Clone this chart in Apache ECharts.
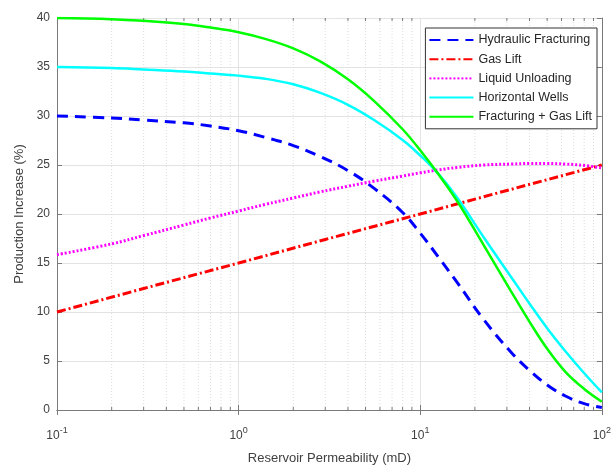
<!DOCTYPE html>
<html>
<head>
<meta charset="utf-8">
<script src="https://cdn.jsdelivr.net/npm/echarts@6/dist/echarts.min.js"></script>
<style>
html,body{margin:0;padding:0;background:#fff;}
#chart{width:614px;height:470px;}
</style>
</head>
<body>
<div id="chart"></div>
<script>
// ---- data ----
const permeability = [0.1, 0.2, 0.3, 0.5, 0.7, 1, 1.4, 2, 2.8, 4, 5.6, 8, 10, 12.6, 16, 22.4, 32, 40, 50, 63, 80, 100];
const hydraulicFracturing = [30, 29.79, 29.58, 29.3, 28.98, 28.5, 27.82, 26.98, 25.89, 24.43, 22.59, 20.15, 18.05, 15.6, 13.0, 9.21, 5.8, 4.04, 2.56, 1.43, 0.65, 0.25];
const horizontalWells = [35, 34.9, 34.75, 34.54, 34.34, 34.12, 33.8, 33.24, 32.38, 31.14, 29.56, 27.55, 25.97, 24.1, 21.65, 17.6, 13.45, 10.85, 8.35, 6.0, 3.75, 1.8];
const fracturingGasLift = [40, 39.88, 39.71, 39.38, 39.02, 38.55, 37.87, 36.9, 35.6, 33.75, 31.5, 28.65, 26.5, 24.05, 21.3, 16.8, 11.95, 9.0, 6.25, 3.9, 2.15, 0.85];
const liquidUnloading = [15.85, 16.95, 17.8, 18.88, 19.6, 20.3, 20.98, 21.63, 22.25, 22.83, 23.36, 23.87, 24.2, 24.5, 24.75, 25.0, 25.1, 25.15, 25.15, 25.1, 24.95, 24.7];
const gasLiftX = [0.1, 0.3, 1, 3, 10, 30, 100];
const gasLift = [10, 12.4, 15, 17.4, 20, 22.4, 25];
const minorTicksX = [0.2,0.3,0.4,0.5,0.6,0.7,0.8,0.9, 2,3,4,5,6,7,8,9, 20,30,40,50,60,70,80,90];
const yRange = [0, 40];
const xRange = [0.1, 100];
const seriesNames = ['Hydraulic Fracturing', 'Gas Lift', 'Liquid Unloading', 'Horizontal Wells', 'Fracturing + Gas Lift'];

const FONT = '"Liberation Sans", Arial, sans-serif';
const AXIS_COLOR = '#7a7a7a';
const TEXT_COLOR = '#404040';

function pairs(xs, ys){ return xs.map((x,i)=>[x, ys[i]]); }

const chart = echarts.init(document.getElementById('chart'), null, {renderer:'canvas'});

const xCommon = {
  type: 'log', logBase: 10, min: xRange[0], max: xRange[1],
  axisLine: {show: true, lineStyle: {color: AXIS_COLOR, width: 1}},
  axisTick: {show: true, inside: true, length: 5, lineStyle: {color: AXIS_COLOR}},
  minorTick: {show: false},
};
const yCommon = {
  type: 'value', min: yRange[0], max: yRange[1], interval: 5,
  axisLine: {show: true, lineStyle: {color: AXIS_COLOR, width: 1}},
  axisTick: {show: true, inside: true, length: 5, lineStyle: {color: AXIS_COLOR}},
};

const option = {
  animation: false,
  backgroundColor: '#fff',
  textStyle: {fontFamily: FONT},
  grid: {left: 57, right: 10, top: 18, bottom: 54, containLabel: false},
  legend: {
    data: seriesNames,
    orient: 'vertical',
    right: 17, top: 28,
    backgroundColor: '#fff',
    borderColor: '#333', borderWidth: 1,
    padding: [5, 5, 5, 3],
    itemWidth: 44, itemHeight: 14, itemGap: 5.2,
    itemStyle: {opacity: 0},
    textStyle: {fontSize: 12.5, lineHeight: 14, color: '#262626', fontFamily: FONT}
  },
  xAxis: [
    Object.assign({}, xCommon, {
      position: 'bottom',
      name: 'Reservoir Permeability (mD)', nameLocation: 'middle', nameGap: 42,
      nameTextStyle: {fontSize: 13, color: TEXT_COLOR, fontFamily: FONT},
      splitLine: {show: true, lineStyle: {color: '#e3e3e3', width: 1}},
      axisLabel: {
        margin: 16, color: TEXT_COLOR, fontSize: 12, fontFamily: FONT,
        formatter: function(v){ const e = Math.round(Math.log10(v)); return '{b|10}{sup|' + e + '}'; },
        rich: {
          b: {fontSize: 12, color: TEXT_COLOR, fontFamily: FONT, verticalAlign: 'bottom', lineHeight: 16},
          sup: {fontSize: 9, color: TEXT_COLOR, fontFamily: FONT, verticalAlign: 'top', lineHeight: 16}
        }
      }
    }),
    Object.assign({}, xCommon, {
      position: 'top',
      axisLabel: {show: false},
      splitLine: {show: false}
    })
  ],
  yAxis: [
    Object.assign({}, yCommon, {
      position: 'left',
      name: 'Production Increase (%)', nameLocation: 'middle', nameGap: 29,
      nameTextStyle: {fontSize: 13, color: TEXT_COLOR, fontFamily: FONT},
      splitLine: {show: true, lineStyle: {color: '#e3e3e3', width: 1}},
      axisLabel: {margin: 7, color: TEXT_COLOR, fontSize: 12, fontFamily: FONT}
    }),
    Object.assign({}, yCommon, {
      position: 'right',
      axisLabel: {show: false},
      splitLine: {show: false}
    })
  ],
  series: [
    {
      type: 'custom',
      silent: true,
      z: 1,
      xAxisIndex: 0, yAxisIndex: 0,
      data: minorTicksX.map(v => [v, yRange[0]]),
      encode: {x: 0, y: 1},
      renderItem: function(params, api){
        const v = api.value(0);
        const pb = api.coord([v, yRange[0]]);
        const pt = api.coord([v, yRange[1]]);
        return {
          type: 'group',
          children: [
            {type: 'line', shape: {x1: pb[0], y1: pb[1], x2: pt[0], y2: pt[1]},
             style: {stroke: '#dcdcdc', lineWidth: 1, lineDash: [1, 2]}},
            {type: 'line', shape: {x1: pb[0], y1: pb[1], x2: pb[0], y2: pb[1] - 3},
             style: {stroke: AXIS_COLOR, lineWidth: 1}},
            {type: 'line', shape: {x1: pt[0], y1: pt[1], x2: pt[0], y2: pt[1] + 3},
             style: {stroke: AXIS_COLOR, lineWidth: 1}}
          ]
        };
      }
    },
    {
      name: seriesNames[0], type: 'line', smooth: 0.4, symbol: 'none', z: 5,
      data: pairs(permeability, hydraulicFracturing),
      lineStyle: {color: '#0000ff', width: 3, type: [11, 7]},
      itemStyle: {color: '#0000ff'}
    },
    {
      name: seriesNames[1], type: 'line', smooth: false, symbol: 'none', z: 5,
      data: pairs(gasLiftX, gasLift),
      lineStyle: {color: '#ff0000', width: 3, type: [9, 3, 2, 3]},
      itemStyle: {color: '#ff0000'}
    },
    {
      name: seriesNames[2], type: 'line', smooth: 0.4, symbol: 'none', z: 5,
      data: pairs(permeability, liquidUnloading),
      lineStyle: {color: '#ff00ff', width: 3, type: [2, 2]},
      itemStyle: {color: '#ff00ff'}
    },
    {
      name: seriesNames[3], type: 'line', smooth: 0.4, symbol: 'none', z: 5,
      data: pairs(permeability, horizontalWells),
      lineStyle: {color: '#00ffff', width: 2.5},
      itemStyle: {color: '#00ffff'}
    },
    {
      name: seriesNames[4], type: 'line', smooth: 0.4, symbol: 'none', z: 5,
      data: pairs(permeability, fracturingGasLift),
      lineStyle: {color: '#00ff00', width: 2.5},
      itemStyle: {color: '#00ff00'}
    }
  ]
};
chart.setOption(option);
</script>
</body>
</html>
